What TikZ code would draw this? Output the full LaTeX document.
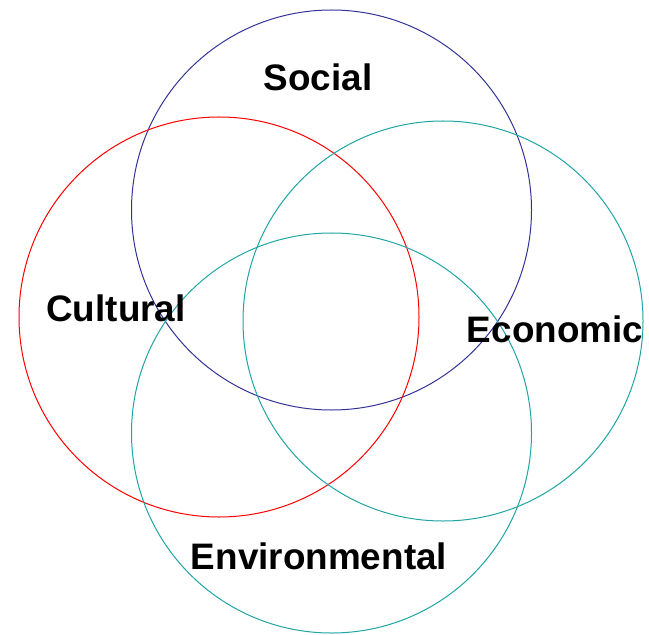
\documentclass[tikz,border=0pt]{standalone}
\usepackage{fontspec}
\setmainfont{Liberation Sans}
\definecolor{socialc}{HTML}{333399}
\definecolor{culturec}{HTML}{FF0000}
\definecolor{tealc}{HTML}{1FA5A5}
\begin{document}
\begin{tikzpicture}[x=1bp,y=-1bp,
  ring/.style={draw, line width=1bp, circle, minimum size=400bp, inner sep=0pt},
  lbl/.style={font=\fontsize{37}{40}\selectfont\bfseries, anchor=base, inner sep=0pt}]
\useasboundingbox (0,0) rectangle (649,635);
\node[ring, draw=socialc] (social) at (331.5,210) {};
\node[ring, draw=culturec] (cultural) at (219,317) {};
\node[ring, draw=tealc] (economic) at (443,321) {};
\node[ring, draw=tealc] (environmental) at (331.5,433) {};
\node[lbl] (tsocial) at (318,90.5) {Social};
\node[lbl] (tcultural) at (116,321) {Cultural};
\node[lbl] (teconomic) at (555,342.5) {Economic};
\node[lbl] (tenvironmental) at (319,569) {Environmental};
\end{tikzpicture}
\end{document}
